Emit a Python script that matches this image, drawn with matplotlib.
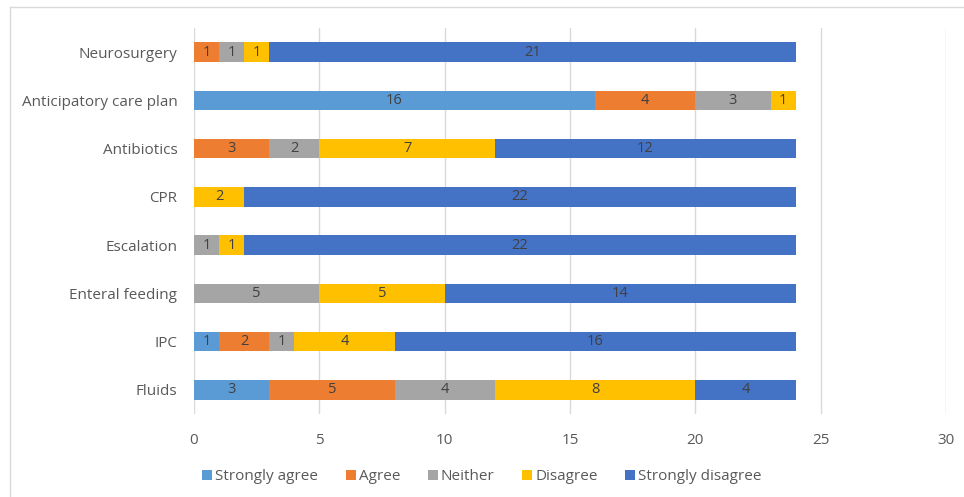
import matplotlib.pyplot as plt
from matplotlib.lines import Line2D
import numpy as np

categories = ["Fluids", "IPC", "Enteral feeding", "Escalation", "CPR",
              "Antibiotics", "Anticipatory care plan", "Neurosurgery"]
series_names = ["Strongly agree", "Agree", "Neither", "Disagree", "Strongly disagree"]
strongly_agree = [3, 1, 0, 0, 0, 0, 16, 0]
agree = [5, 2, 0, 0, 0, 3, 4, 1]
neither = [4, 1, 5, 1, 0, 2, 3, 1]
disagree = [8, 4, 5, 1, 2, 7, 1, 1]
strongly_disagree = [4, 16, 14, 22, 22, 12, 0, 21]
x_ticks = [0, 5, 10, 15, 20, 25, 30]

series = [strongly_agree, agree, neither, disagree, strongly_disagree]
colors = ["#5B9BD5", "#ED7D31", "#A5A5A5", "#FFC000", "#4472C4"]

plt.rcParams['font.family'] = ['Open Sans', 'DejaVu Sans']
text_color = "#595959"

fig = plt.figure(figsize=(9.64, 4.97), dpi=100)
ax = fig.add_axes([194 / 964, 1 - 414 / 497, (946 - 194) / 964, (414 - 28) / 497])

y = np.arange(len(categories))
left = np.zeros(len(categories))
for name, vals, col in zip(series_names, series, colors):
    vals = np.array(vals, dtype=float)
    bars = ax.barh(y, vals, left=left, height=0.4, color=col, label=name, zorder=3)
    for rect, v in zip(bars, vals):
        if v > 0:
            ax.text(rect.get_x() + rect.get_width() / 2, rect.get_y() + rect.get_height() / 2,
                    f"{int(v)}", ha="center", va="center", fontsize=10.5,
                    color="#404040", zorder=4)
    left += vals

ax.set_xlim(0, 30)
ax.set_ylim(-0.5, len(categories) - 0.5)
ax.set_xticks(x_ticks)
ax.set_yticks(y)
ax.set_yticklabels(categories)
ax.xaxis.grid(True, color="#D9D9D9", linewidth=1, zorder=0)
for s in ax.spines.values():
    s.set_visible(False)
ax.tick_params(axis="both", length=0, labelsize=11, colors=text_color)
ax.tick_params(axis="x", pad=14)
ax.tick_params(axis="y", pad=12)

handles, labels = ax.get_legend_handles_labels()
fig.legend(handles, labels, loc="center", bbox_to_anchor=(482 / 964, 1 - 477 / 497),
           ncol=5, frameon=False, fontsize=11, handlelength=0.65, handleheight=0.65,
           handletextpad=0.2, columnspacing=1.8, labelcolor=text_color)

# chart area border (left and top edges)
fig.add_artist(Line2D([10 / 964, 10 / 964], [0, 1 - 7 / 497], color="#D9D9D9", lw=1,
                      transform=fig.transFigure))
fig.add_artist(Line2D([10 / 964, 1], [1 - 7 / 497, 1 - 7 / 497], color="#D9D9D9", lw=1,
                      transform=fig.transFigure))

fig.savefig("out.png", dpi=100)
